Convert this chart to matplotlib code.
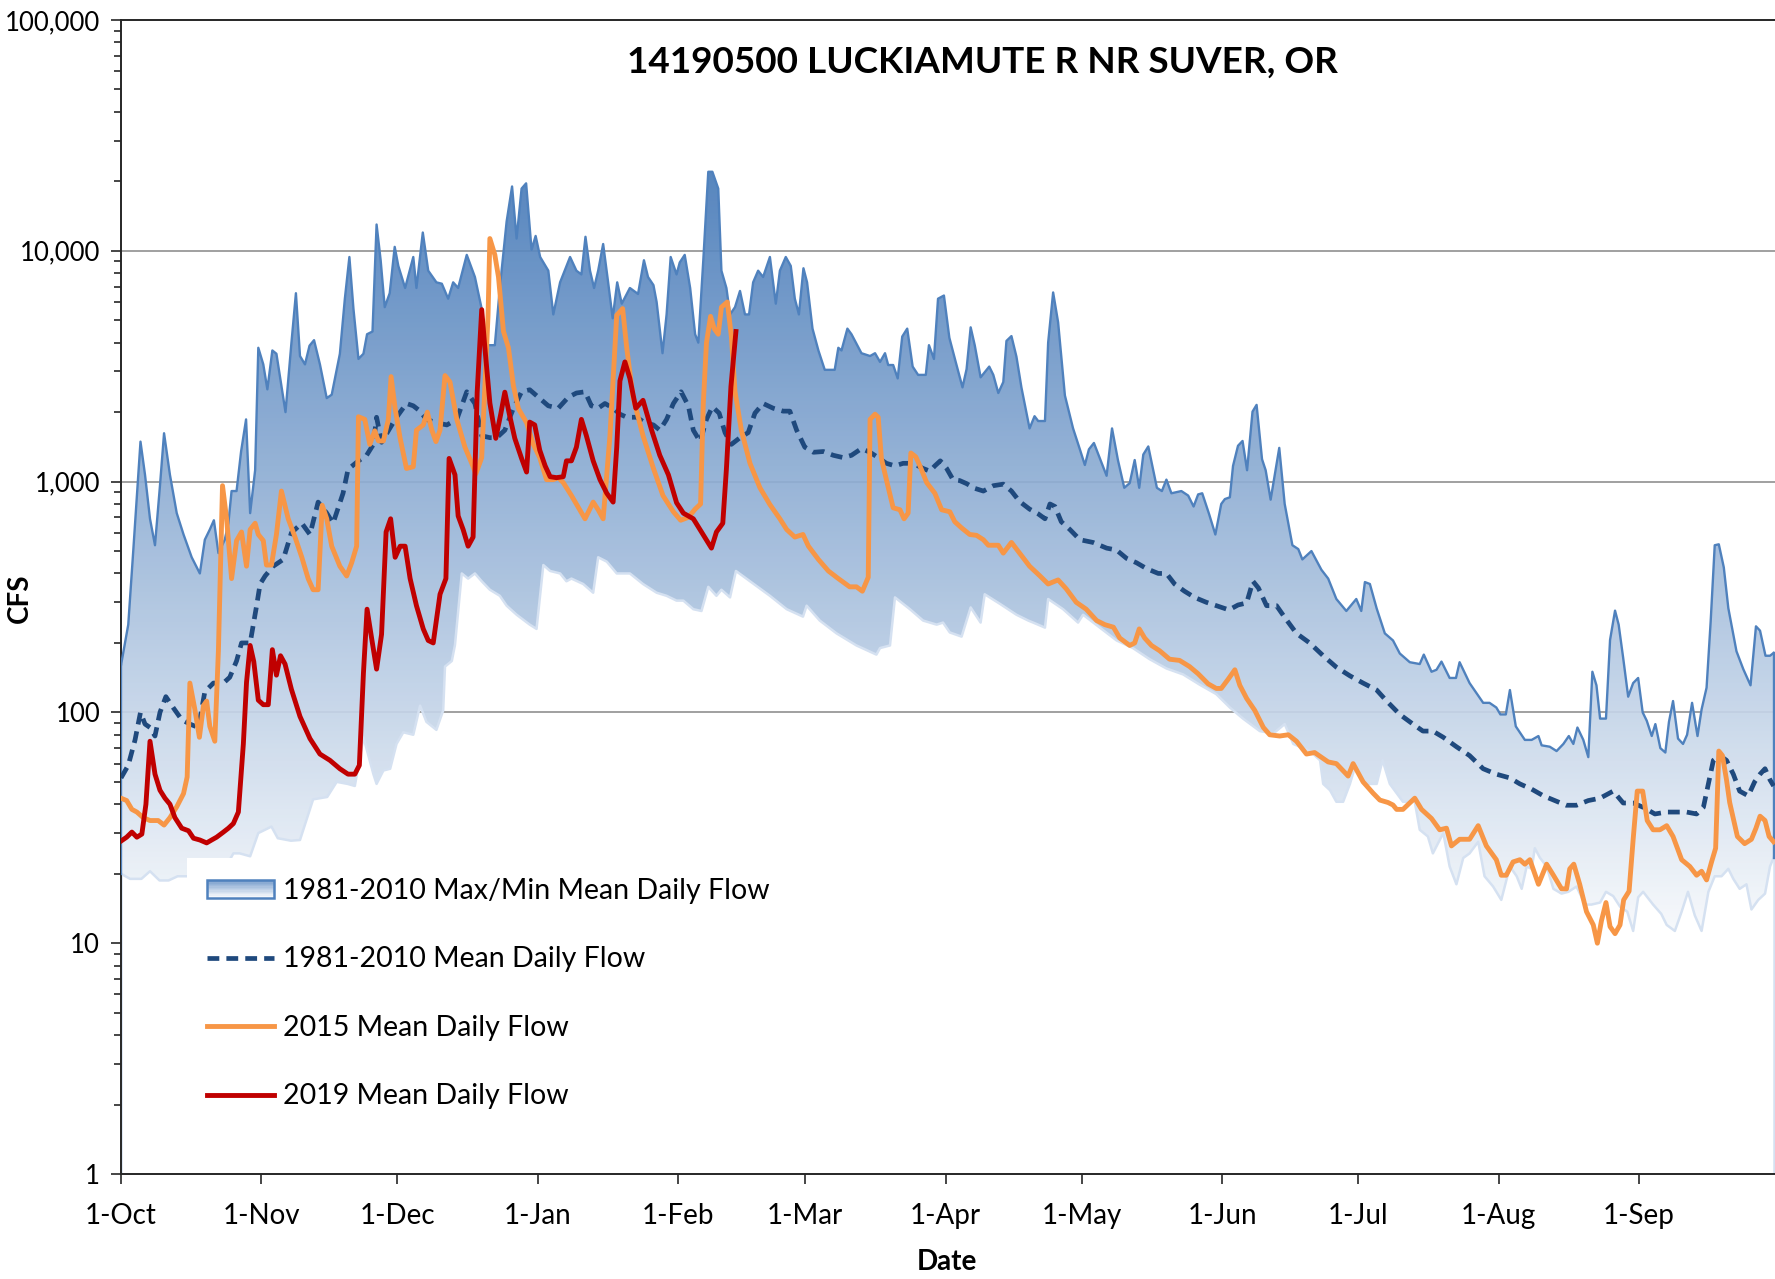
import numpy as np
import matplotlib
matplotlib.use("Agg")
import matplotlib.pyplot as plt
from matplotlib.patches import Polygon, Rectangle
from matplotlib.lines import Line2D
from matplotlib.legend_handler import HandlerBase
from matplotlib.ticker import FixedLocator, LogLocator, FuncFormatter, NullFormatter

plt.rcParams['font.family'] = ['Lato', 'DejaVu Sans']

# day of water year (0 = 1-Oct), flow in cfs
max_flow = [
    (0, 160), (1.6, 240), (2.7, 500), (4.3, 1490), (5.3, 1070), (6.4, 690), (7.5, 530),
    (8.6, 960), (9.5, 1620), (10.8, 1070), (12.3, 730), (13.8, 590), (15.6, 470), (17.4, 400),
    (18.5, 560), (19.6, 620), (20.5, 680), (21.5, 490), (22.9, 560), (23.7, 660), (24.4, 910),
    (25.5, 910), (26.5, 1350), (27.6, 1860), (28.5, 730), (29.6, 1120), (30.3, 3800),
    (31.4, 3220), (32.3, 2510), (33.4, 3700), (34.3, 3580), (36.3, 2000), (37.6, 3970),
    (38.6, 6550), (39.5, 3500), (40.6, 3220), (41.6, 3880), (42.6, 4100), (43.9, 3220),
    (45.4, 2300), (46.5, 2380), (48.3, 3580), (49.4, 6200), (50.4, 9400), (51.3, 5600),
    (52.4, 3400), (53.5, 3580), (54.3, 4350), (55.5, 4470), (56.4, 13000), (57.3, 9100),
    (58.2, 5700), (59.3, 6550), (60.4, 10400), (61.2, 8600), (62.7, 6900), (64.5, 9400),
    (65.2, 6900), (66.6, 12000), (67.8, 8200), (69.6, 7300), (70.8, 7200), (72.2, 6200),
    (73.3, 7300), (74.4, 6900), (76.3, 9600), (78.1, 7700), (79.6, 5600), (80.6, 3900),
    (82.5, 3900), (83.6, 6900), (85.1, 13400), (86.3, 19000), (87.3, 11300), (88.4, 18600),
    (89.4, 19600), (90.6, 10100), (91.5, 11600), (92.5, 9400), (94.3, 8200), (95.4, 5300),
    (96.9, 7300), (99.1, 9400), (100.5, 8200), (101.6, 7900), (102.5, 11500), (103.5, 8200),
    (104.4, 6900), (105.3, 8200), (106.4, 10700), (107.5, 7300), (108.5, 5100), (109.5, 7300),
    (110.5, 5900), (112.3, 6900), (114.1, 6500), (115.4, 9100), (116.3, 7700), (117.5, 7100),
    (118.2, 6000), (119.5, 3600), (120.4, 5300), (121.3, 9400), (122.6, 7900), (123.3, 8900),
    (124.4, 9600), (125.6, 6900), (126.7, 4350), (127.4, 4000), (128.5, 9100), (129.6, 22000),
    (130.5, 22000), (131.8, 18600), (132.5, 8200), (133.6, 6900), (134.4, 5300), (135.5, 5700),
    (136.6, 6700), (137.7, 5300), (138.6, 5300), (139.5, 7300), (140.6, 8200), (141.7, 7700),
    (143.2, 9400), (144.5, 5900), (145.4, 8200), (146.7, 9400), (147.8, 8600), (148.7, 6200),
    (149.6, 5300), (150.6, 8400), (151.4, 7300), (152.6, 4600), (153.9, 3700), (155.3, 3050),
    (157.5, 3050), (158.3, 3800), (159.0, 3700), (160.3, 4600), (161.2, 4350), (163.4, 3600),
    (165.3, 3500), (166.4, 3600), (167.5, 3300), (168.6, 3600), (169.3, 3200), (170.4, 3200),
    (171.4, 2800), (172.4, 4250), (173.5, 4600), (174.7, 3150), (175.9, 2900), (177.6, 2900),
    (178.3, 3900), (179.4, 3400), (180.3, 6200), (181.6, 6400), (182.8, 4200), (184.2, 3300),
    (185.7, 2560), (186.6, 3070), (187.5, 4660), (188.4, 3900), (189.7, 2830), (191.6, 3150),
    (192.5, 2900), (193.6, 2420), (194.7, 2700), (195.4, 4070), (196.5, 4270), (197.6, 3480),
    (198.7, 2560), (200.5, 1700), (201.6, 1920), (202.4, 1830), (203.9, 1830), (204.6, 4000),
    (205.7, 6600), (206.8, 4900), (208.3, 2360), (210.1, 1700), (211.6, 1380), (212.7, 1180),
    (213.6, 1380), (214.7, 1470), (217.5, 1060), (218.7, 1700), (220.0, 1240), (221.4, 940),
    (222.6, 985), (223.7, 1240), (224.7, 940), (225.6, 1310), (226.7, 1420), (228.6, 940),
    (229.7, 910), (230.7, 1020), (231.8, 890), (234.0, 910), (235.5, 870), (236.7, 780),
    (237.7, 880), (238.6, 890), (240.1, 725), (241.5, 590), (242.8, 800), (243.6, 840),
    (244.7, 855), (245.4, 1170), (246.5, 1430), (247.5, 1500), (248.5, 1120), (249.7, 2010),
    (250.6, 2150), (251.8, 1250), (252.6, 1120), (253.7, 835), (254.6, 1070), (255.6, 1400),
    (256.8, 800), (258.5, 530), (259.8, 510), (260.7, 460), (262.7, 500), (264.9, 415),
    (266.4, 380), (268.2, 310), (270.4, 275), (272.6, 310), (273.7, 275), (274.5, 367),
    (275.6, 360), (277.1, 282), (278.9, 220), (280.7, 205), (282.2, 180), (284.4, 165),
    (286.6, 162), (287.5, 178), (289.2, 150), (290.3, 153), (291.4, 166), (293.2, 141),
    (294.6, 141), (295.4, 165), (297.6, 134), (300.6, 110), (302.0, 110), (303.5, 105),
    (304.4, 98), (305.6, 98), (306.5, 125), (307.8, 87), (309.8, 76), (311.3, 76), (312.8, 79),
    (313.5, 72), (315.3, 71), (316.8, 68), (318.3, 73), (319.5, 79), (320.5, 73), (321.4, 86),
    (322.7, 76), (323.8, 64), (324.7, 150), (325.6, 131), (326.4, 94), (327.7, 94), (328.6, 206),
    (329.7, 276), (330.5, 240), (331.5, 172), (332.6, 117), (333.7, 134), (334.8, 141),
    (335.8, 100), (336.7, 92), (337.8, 79), (338.6, 89), (339.7, 70), (340.8, 67), (341.6, 91),
    (342.5, 112), (343.6, 77), (344.7, 73), (345.6, 80), (346.7, 110), (347.9, 79), (348.8, 103),
    (349.9, 128), (350.8, 247), (351.7, 530), (352.6, 535), (353.7, 425), (354.7, 283),
    (356.5, 184), (358.0, 154), (359.6, 131), (360.8, 236), (361.7, 226), (362.9, 176),
    (363.9, 176), (364.7, 181),
]

min_flow = [
    (0, 20), (2, 19), (4.5, 19), (6.4, 20.5), (8.5, 18.7), (10.5, 18.7), (12.5, 19.5),
    (15, 19.5), (18, 19), (22, 19.5), (24.8, 24.5), (26.2, 24.5), (28.5, 23.8), (30.3, 30),
    (33.2, 32), (34.6, 28.5), (37.5, 27.8), (39.5, 28), (42.4, 42), (45.5, 43), (47.6, 50),
    (50.0, 49), (51.6, 48), (53.5, 78), (55.7, 54), (56.4, 49), (57.9, 56), (59.4, 57),
    (60.8, 73), (62.3, 82), (64.5, 80), (66.0, 107), (67.4, 91), (69.6, 84), (71.1, 102),
    (71.5, 158), (73.0, 167), (73.7, 196), (75.2, 400), (76.6, 380), (78.1, 400), (79.6, 370),
    (81.4, 340), (83.6, 320), (85.1, 290), (87.3, 265), (90.2, 240), (91.7, 230), (93.2, 435),
    (94.7, 410), (96.9, 400), (98.3, 370), (99.4, 380), (102.0, 360), (104.2, 330),
    (105.3, 470), (107.2, 450), (109.4, 400), (112.3, 400), (115.2, 360), (118.2, 330),
    (120.4, 320), (122.6, 305), (124.1, 305), (126.3, 280), (128.1, 275), (129.6, 350),
    (131.4, 320), (132.5, 340), (134.4, 315), (135.7, 410), (138.8, 370), (143.2, 320),
    (146.9, 280), (150.5, 260), (151.3, 290), (154.2, 250), (157.9, 220), (162.3, 195),
    (166.7, 178), (167.5, 190), (169.7, 195), (170.8, 315), (174.1, 280), (177.0, 250),
    (180.0, 240), (181.4, 245), (182.9, 222), (185.5, 213), (187.5, 285), (189.7, 245),
    (190.6, 325), (194.0, 295), (197.6, 265), (200.2, 250), (201.3, 245), (203.9, 233),
    (204.6, 310), (207.9, 280), (211.2, 245), (212.3, 265), (216.0, 233), (219.7, 205),
    (223.3, 190), (227.0, 170), (230.7, 155), (234.4, 146), (238.0, 132), (241.7, 120),
    (244.7, 105), (247.6, 94), (251.3, 83), (254.3, 81), (256.8, 89), (258.7, 73), (262.4, 68),
    (264.6, 62), (265.3, 49), (266.8, 46), (268.2, 41), (269.7, 41), (271.2, 49), (272.3, 58),
    (274.8, 49), (277.1, 49), (278.4, 62), (280.0, 49), (282.9, 41), (285.5, 41), (286.6, 31),
    (288.4, 29), (289.5, 24.5), (291.8, 30), (293.2, 21.5), (294.7, 18), (296.2, 23.4),
    (297.6, 24.5), (299.5, 27.5), (300.9, 19.5), (302.8, 17.6), (304.6, 15.4), (306.5, 21.5),
    (308.0, 19.5), (309.1, 17.2), (310.2, 21.5), (311.3, 21), (312.0, 25.8), (313.1, 23.5),
    (314.6, 21.5), (316.1, 17.2), (317.9, 16.4), (319.4, 16.7), (321.2, 17.6), (323.1, 14.7),
    (324.5, 14.7), (326.4, 15), (327.7, 16.7), (329.3, 16), (330.8, 14.4), (332.4, 13.7),
    (333.7, 11.3), (334.8, 15.8), (335.9, 16.7), (338.1, 14.7), (339.9, 13.4), (341.1, 12),
    (342.9, 11.3), (344.4, 13.7), (345.8, 16.7), (347.3, 13.2), (348.8, 11.3), (350.3, 16.7),
    (351.7, 19.5), (353.2, 19.5), (354.7, 21), (355.8, 19), (357.2, 17.2), (358.7, 18),
    (359.8, 14), (361.3, 15.4), (362.8, 16.4), (363.9, 21.5), (364.7, 23.5),
]

mean_flow = [
    (0, 52), (1.6, 59), (3.1, 76), (4.3, 100), (5.3, 89), (6.4, 86), (7.5, 79), (8.6, 100),
    (9.9, 117), (11.5, 105), (13.4, 93), (15.2, 89), (17.1, 86), (18.5, 123), (20.4, 134),
    (22.6, 134), (24.0, 142), (25.5, 167), (26.6, 200), (28.5, 200), (29.9, 288), (30.7, 360),
    (31.8, 390), (33.6, 430), (35.8, 460), (37.6, 600), (39.9, 660), (41.7, 590), (43.5, 815),
    (45.4, 730), (46.8, 660), (49.0, 890), (50.1, 1130), (52.4, 1230), (54.2, 1300),
    (55.7, 1450), (56.4, 1900), (57.5, 1480), (59.3, 1700), (60.8, 1900), (63.0, 2180),
    (64.5, 2130), (66.0, 2020), (67.4, 1860), (69.6, 1800), (71.9, 1760), (74.1, 1860),
    (76.3, 2450), (78.1, 2180), (79.6, 1580), (81.4, 1550), (82.9, 1550), (84.7, 1670),
    (86.6, 2080), (88.4, 2450), (90.2, 2500), (92.1, 2320), (94.3, 2130), (96.5, 2080),
    (98.7, 2320), (100.5, 2420), (102.4, 2450), (103.8, 2130), (105.3, 2080), (106.8, 2180),
    (108.6, 2080), (110.1, 1960), (111.6, 1900), (113.8, 1900), (115.6, 1800), (117.5, 1760),
    (118.9, 1670), (120.4, 1860), (121.9, 2180), (123.6, 2450), (125.2, 2130), (126.3, 1670),
    (127.8, 1490), (129.2, 1860), (130.5, 2110), (132.0, 1980), (133.3, 1630), (134.7, 1450),
    (136.6, 1550), (138.4, 1630), (139.9, 1980), (141.7, 2180), (143.9, 2080), (146.1, 2020),
    (147.6, 2020), (149.1, 1670), (150.9, 1410), (152.8, 1340), (155.0, 1350), (157.2, 1300),
    (159.4, 1270), (161.2, 1300), (163.4, 1390), (165.3, 1340), (167.1, 1270), (168.9, 1200),
    (170.8, 1170), (172.6, 1200), (174.8, 1200), (177.0, 1140), (178.5, 1110), (179.6, 1170),
    (180.8, 1230), (182.2, 1140), (183.6, 1020), (185.1, 1010), (186.6, 980), (188.4, 935),
    (190.3, 910), (192.5, 960), (194.7, 975), (196.5, 910), (198.3, 820), (200.5, 760),
    (202.4, 725), (203.9, 690), (205.0, 800), (206.1, 780), (207.5, 670), (209.4, 620),
    (211.6, 560), (214.5, 545), (217.5, 515), (219.7, 505), (221.9, 465), (224.1, 445),
    (226.3, 420), (228.9, 400), (230.7, 400), (232.5, 360), (234.7, 335), (236.9, 315),
    (239.5, 300), (241.7, 290), (244.5, 278), (246.5, 292), (248.4, 298), (249.8, 370),
    (251.0, 346), (252.8, 290), (255.0, 290), (256.8, 258), (259.4, 220), (262.3, 200),
    (265.3, 176), (268.2, 157), (271.2, 144), (274.1, 134), (277.1, 125), (279.3, 112),
    (282.2, 98), (285.1, 89), (287.3, 83), (289.5, 83), (291.8, 78), (294.7, 71), (297.6, 65),
    (300.6, 57), (303.5, 54), (306.5, 52), (308.7, 49), (311.3, 46.5), (313.9, 43.5),
    (316.4, 41.5), (318.9, 39.6), (321.2, 39.6), (323.8, 41.5), (326.4, 42.5), (329.3, 45.6),
    (331.5, 40.5), (333.7, 40.5), (335.9, 38.8), (338.5, 36.3), (341.1, 37), (343.3, 37),
    (345.5, 37), (347.7, 36.3), (349.2, 38.8), (350.3, 49), (351.4, 62), (352.8, 65),
    (354.3, 62), (355.8, 54), (357.2, 45.6), (359.1, 43.5), (360.5, 50), (361.7, 54),
    (362.8, 57), (363.9, 51), (364.7, 48),
]

flow_2015 = [
    (0, 42.5), (1.25, 41.5), (2.4, 38), (3.5, 37), (4.9, 35), (6.4, 34), (8.2, 34), (9.5, 32.5),
    (10.8, 35), (12.3, 39), (13.8, 44.5), (14.6, 52.5), (15.2, 134), (16.3, 103), (17.3, 78),
    (18.2, 107), (18.9, 112), (19.6, 87), (20.7, 75), (21.5, 186), (22.4, 960), (23.3, 690),
    (24.4, 380), (25.5, 555), (26.6, 605), (27.7, 430), (28.5, 620), (29.6, 660), (30.3, 590),
    (31.4, 555), (32.1, 435), (33.2, 435), (34.3, 590), (35.4, 910), (36.9, 690), (38.4, 575),
    (39.9, 470), (41.3, 380), (42.4, 340), (43.5, 340), (44.4, 790), (45.4, 690), (46.5, 525),
    (48.3, 430), (49.8, 390), (50.9, 445), (52.0, 525), (52.4, 1910), (53.8, 1860),
    (54.9, 1450), (56.0, 1660), (56.8, 1500), (57.9, 1500), (59.0, 1860), (59.6, 2850),
    (60.5, 2070), (61.6, 1540), (63.0, 1140), (64.5, 1160), (65.2, 1670), (66.7, 1760),
    (67.6, 2000), (68.6, 1670), (69.5, 1490), (70.4, 1670), (71.5, 2880), (72.6, 2700),
    (74.1, 1860), (75.9, 1410), (77.4, 1200), (78.3, 1080), (79.6, 1270), (80.3, 2600),
    (81.0, 5260), (81.4, 11300), (82.5, 9600), (83.3, 7700), (84.4, 4480), (85.5, 3800),
    (86.6, 2600), (87.7, 2070), (89.5, 1800), (91.0, 1450), (92.4, 1270), (93.9, 1020),
    (95.4, 1020), (96.5, 1040), (97.6, 990), (99.4, 870), (100.9, 775), (102.4, 690),
    (104.2, 815), (105.3, 755), (106.4, 690), (107.9, 1580), (109.4, 5260), (110.7, 5620),
    (111.6, 3800), (113.0, 2320), (115.2, 1580), (117.5, 1140), (119.6, 870), (121.9, 740),
    (123.5, 680), (125.2, 700), (126.7, 760), (127.9, 800), (128.5, 2180), (129.2, 4000),
    (130.1, 5200), (130.9, 4600), (131.8, 4350), (132.5, 5700), (133.8, 6000), (134.7, 4240),
    (135.5, 2450), (136.9, 1670), (138.8, 1200), (141.0, 940), (143.2, 795), (145.4, 690),
    (146.9, 620), (148.7, 575), (150.5, 590), (151.7, 525), (153.9, 460), (156.1, 410),
    (158.3, 380), (160.8, 350), (162.3, 350), (163.6, 335), (164.9, 385), (165.3, 1860),
    (166.4, 1960), (167.1, 1900), (167.8, 1260), (168.9, 1020), (170.4, 770), (171.9, 755),
    (172.8, 690), (173.7, 730), (174.3, 1330), (175.4, 1280), (176.3, 1170), (177.8, 990),
    (179.6, 890), (181.1, 755), (182.9, 740), (184.0, 670), (185.5, 630), (187.3, 590),
    (188.8, 585), (190.3, 560), (191.4, 530), (193.6, 530), (194.7, 490), (196.5, 545),
    (198.3, 490), (200.5, 430), (202.8, 390), (204.6, 360), (206.8, 375), (208.6, 343),
    (210.8, 300), (213.0, 280), (215.3, 250), (217.1, 240), (219.0, 234), (220.4, 210),
    (222.6, 195), (223.7, 200), (224.7, 230), (225.9, 210), (227.4, 195), (229.2, 185),
    (231.4, 170), (233.6, 168), (235.8, 158), (237.7, 147), (239.9, 133), (241.7, 127),
    (242.8, 127), (244.3, 139), (245.8, 153), (246.9, 131), (248.4, 115), (250.2, 102),
    (252.1, 86), (253.5, 80), (255.7, 79), (257.6, 80), (259.4, 75), (261.6, 66), (263.4, 67),
    (266.4, 61), (268.2, 60), (270.8, 53), (271.9, 60), (274.1, 50), (276.3, 44.7),
    (277.8, 41.7), (279.6, 40.7), (280.7, 39.7), (281.5, 38), (282.9, 38), (285.5, 42.5),
    (287.0, 38), (289.2, 34.7), (291.0, 31), (292.5, 31.5), (293.6, 26.4), (295.4, 28.2),
    (297.6, 28.2), (299.5, 32.3), (301.3, 26.4), (303.5, 23), (304.6, 19.7), (305.7, 19.7),
    (307.2, 22.5), (308.7, 23), (309.8, 22), (310.9, 23), (312.8, 18), (314.6, 22),
    (316.1, 19.7), (317.9, 17.2), (319.0, 17.2), (319.7, 21), (320.6, 22), (321.9, 18),
    (323.4, 13.7), (324.9, 12), (325.8, 10), (326.7, 12.5), (327.7, 15), (328.6, 11.8),
    (329.7, 11), (330.8, 12), (331.6, 15.4), (332.8, 16.8), (333.7, 28.2), (334.6, 45.6),
    (335.8, 45.6), (336.8, 34), (338.1, 31), (339.6, 31), (341.1, 32.3), (342.5, 29),
    (344.4, 23), (346.2, 21.5), (347.7, 19.7), (348.8, 20.5), (349.9, 18.8), (351.0, 22.5),
    (351.9, 25.8), (352.6, 68), (353.4, 65), (354.3, 51), (355.0, 40.7), (356.7, 29),
    (358.3, 27), (359.8, 28.2), (360.8, 31.5), (361.7, 35.5), (362.8, 34), (363.7, 29),
    (364.7, 27.5),
]

flow_2019 = [
    (0, 27.7), (1.25, 28.8), (2.4, 30.3), (3.5, 28.8), (4.6, 29.7), (5.5, 40), (6.4, 75),
    (7.5, 54), (8.6, 46), (9.7, 42.5), (10.8, 40), (11.9, 35), (13.4, 31.5), (14.9, 30.7),
    (16.0, 28.5), (17.4, 28), (18.9, 27.2), (20.0, 28), (21.1, 28.8), (22.6, 30.3),
    (23.7, 31.5), (24.8, 33), (25.9, 37), (27.0, 73), (27.7, 135), (28.5, 195), (29.3, 166),
    (30.3, 113), (31.4, 108), (32.5, 108), (33.4, 187), (34.3, 145), (35.2, 176), (36.2, 162),
    (37.6, 126), (39.5, 96), (41.7, 77), (43.9, 66), (46.1, 62), (48.3, 57), (50.1, 54),
    (51.6, 54), (52.6, 59), (53.5, 148), (54.3, 280), (55.3, 210), (56.4, 154), (57.5, 218),
    (58.5, 605), (59.5, 690), (60.5, 470), (61.6, 525), (62.7, 525), (63.8, 380), (65.2, 290),
    (66.7, 230), (67.8, 205), (68.9, 200), (70.4, 325), (71.7, 380), (72.4, 1260),
    (73.7, 1070), (74.4, 710), (75.5, 620), (76.6, 525), (77.7, 575), (78.6, 2440),
    (79.6, 5560), (80.3, 3800), (81.4, 2190), (82.7, 1540), (83.8, 1960), (84.7, 2440),
    (85.7, 1960), (86.9, 1540), (88.4, 1260), (89.5, 1100), (90.2, 1810), (91.3, 1760),
    (92.4, 1370), (93.6, 1170), (94.7, 1050), (96.1, 1040), (97.6, 1050), (98.3, 1230),
    (99.4, 1230), (100.5, 1410), (101.6, 1860), (102.7, 1580), (104.2, 1230), (105.7, 1020),
    (107.2, 890), (108.6, 815), (109.4, 1410), (110.1, 2730), (111.2, 3300), (112.3, 2800),
    (113.6, 2080), (115.2, 2250), (117.1, 1670), (118.9, 1300), (120.8, 1070), (122.6, 810),
    (124.1, 730), (126.3, 690), (128.1, 605), (130.3, 515), (131.4, 605), (132.8, 660),
    (133.6, 1135), (134.6, 2580), (135.7, 4470),
]

month_days = [0, 31, 61, 92, 123, 151, 182, 212, 243, 273, 304, 335]
month_labels = ['1-Oct', '1-Nov', '1-Dec', '1-Jan', '1-Feb', '1-Mar', '1-Apr',
                '1-May', '1-Jun', '1-Jul', '1-Aug', '1-Sep']
grid_levels = [100, 1000, 10000]

title = '14190500 LUCKIAMUTE R NR SUVER, OR'
series_labels = ['1981-2010 Max/Min Mean Daily Flow', '1981-2010 Mean Daily Flow',
                 '2015 Mean Daily Flow', '2019 Mean Daily Flow']

c_max = '#4f81bd'
c_min = '#d5e1f1'
c_mean = '#1f497d'
c_2015 = '#f79646'
c_2019 = '#c00000'
grad_top = np.array([0x48, 0x7b, 0xb9]) / 255.0
grad_bot = np.array([1.0, 1.0, 1.0])

W, H = 1775, 1279
fig = plt.figure(figsize=(W / 100, H / 100), dpi=100)
ax = fig.add_axes([121 / W, 1 - 1174 / H, (W - 121) / W, (1174 - 20) / H])

ax.set_yscale('log')
ax.set_xlim(0, 365)
ax.set_ylim(1, 100000)

mx = np.array(max_flow).T
mn = np.array(min_flow).T
mean = np.array(mean_flow).T
y15 = np.array(flow_2015).T
y19 = np.array(flow_2019).T

for g in grid_levels:
    ax.axhline(g, color='#a0a0a0', lw=1.4, zorder=0)

# envelope polygon (max forward, min back)
verts = np.vstack([mx.T, mn.T[::-1]])
env = Polygon(verts, closed=True, facecolor='none', edgecolor='none')
ax.add_patch(env)

# vertical gradient, linear in log(cfs)
logs = np.linspace(5, 0, 400)
t = np.clip((logs - 0.9) / (4.35 - 0.9), 0, 1)[:, None]
rgb = grad_bot * (1 - t) + grad_top * t
img = np.repeat(rgb[:, None, :], 2, axis=1)
im = ax.imshow(img, extent=(0, 1, 0, 1), transform=ax.transAxes, aspect='auto',
               interpolation='bilinear', zorder=1, alpha=0.92)
im.set_clip_path(env)

ax.plot(mn[0], mn[1], color=c_min, lw=1.8, zorder=2)
ax.plot([mn[0][0]] * 2, [1, mn[1][0]], color=c_min, lw=1.8, zorder=2)
ax.plot([mn[0][-1]] * 2, [1, mn[1][-1]], color=c_min, lw=1.8, zorder=2)
ax.plot(mx[0], mx[1], color=c_max, lw=1.7, zorder=3)
ax.plot([mx[0][0]] * 2, [mn[1][0], mx[1][0]], color=c_max, lw=1.7, zorder=3)
ax.plot([mx[0][-1]] * 2, [mn[1][-1], mx[1][-1]], color=c_max, lw=1.7, zorder=3)

ax.plot(mean[0], mean[1], color=c_mean, lw=3.4, dashes=(2.5, 1.5), zorder=4)
ax.plot(y15[0], y15[1], color=c_2015, lw=3.5, zorder=5)
ax.plot(y19[0], y19[1], color=c_2019, lw=3.5, zorder=6)

# axes styling
ax.spines['right'].set_visible(False)
for s in ['left', 'bottom', 'top']:
    ax.spines[s].set_color('#262626')
    ax.spines[s].set_linewidth(1.4)

ax.yaxis.set_major_locator(FixedLocator([1, 10, 100, 1000, 10000, 100000]))
ax.yaxis.set_major_formatter(FuncFormatter(lambda v, p: f'{int(round(v)):,}'))
ax.yaxis.set_minor_locator(LogLocator(base=10, subs=np.arange(2, 10)))
ax.yaxis.set_minor_formatter(NullFormatter())
ax.tick_params(axis='y', which='major', direction='out', length=7, width=1.2,
               color='#262626', labelsize=18.5, pad=8)
ax.tick_params(axis='y', which='minor', direction='out', length=5, width=1.2, color='#262626')

ax.set_xticks(month_days)
ax.set_xticklabels(month_labels)
ax.tick_params(axis='x', which='major', direction='out', length=7, width=1.2,
               color='#262626', labelsize=20, pad=14)
ax.xaxis.set_minor_locator(FixedLocator([]))


class GradientHandler(HandlerBase):
    def create_artists(self, legend, orig_handle, xdescent, ydescent, width, height,
                       fontsize, trans):
        arts = []
        n = 14
        x0, y0 = -xdescent, -ydescent
        for i in range(n):
            f = i / (n - 1)
            col = grad_top * (1 - f) * 0.75 + grad_bot * (1 - (1 - f) * 0.75)
            r = Rectangle((x0, y0 + height * (n - 1 - i) / n), width, height / n,
                          facecolor=col, edgecolor='none', transform=trans)
            arts.append(r)
        arts.append(Rectangle((x0, y0), width, height, facecolor='none',
                              edgecolor=c_max, lw=1.8, transform=trans))
        return arts


h_env = Rectangle((0, 0), 1, 1)
h_mean = Line2D([], [], color=c_mean, lw=3.4, dashes=(2.5, 1.5))
h_15 = Line2D([], [], color=c_2015, lw=3.5)
h_19 = Line2D([], [], color=c_2019, lw=3.5)
leg = ax.legend([h_env, h_mean, h_15, h_19], series_labels,
                handler_map={Rectangle: GradientHandler()},
                loc='upper left', bbox_to_anchor=(187 / W, 1 - 858 / H),
                bbox_transform=fig.transFigure, borderaxespad=0, frameon=True,
                fancybox=False, fontsize=20.5, labelspacing=1.49, borderpad=0.7,
                handlelength=2.35, handletextpad=0.32, handleheight=0.63)
leg.get_frame().set_facecolor('white')
leg.get_frame().set_edgecolor('none')
leg.get_frame().set_alpha(1)
leg.set_zorder(10)

fig.text(982 / W, 1 - 62 / H, title, ha='center', va='center', fontsize=26.6,
         fontweight='bold')
fig.text(20 / W, 1 - 598 / H, 'CFS', ha='center', va='center', rotation=90,
         fontsize=20, fontweight='bold')
fig.text(947 / W, 1 - 1262 / H, 'Date', ha='center', va='center', fontsize=20,
         fontweight='bold')

fig.savefig('out.png', dpi=100, facecolor='white')
